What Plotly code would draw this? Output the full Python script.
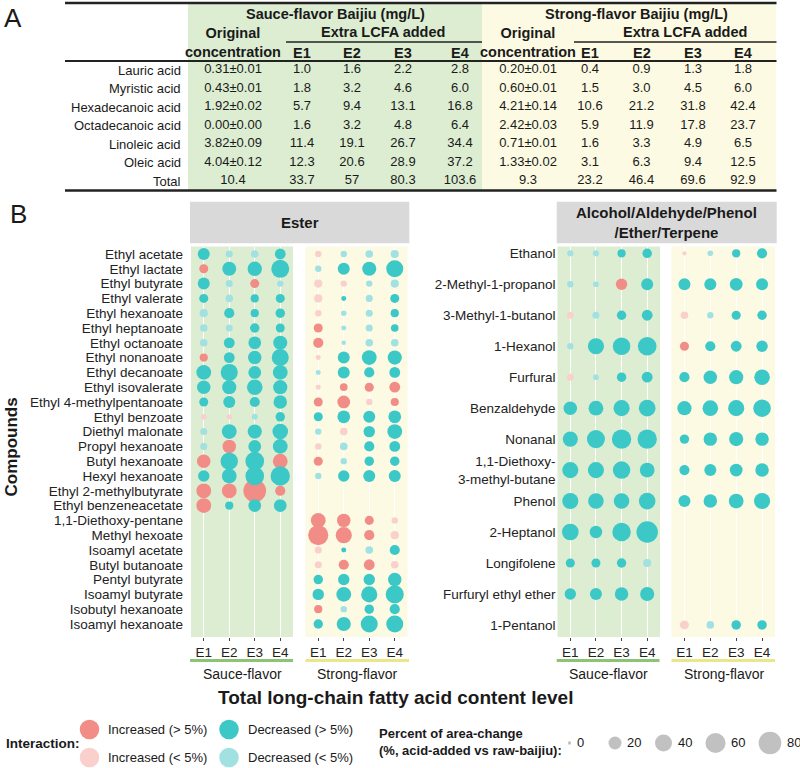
import math
import plotly.graph_objects as go

W, H = 800, 768
FONT = "Liberation Sans, Arial, Helvetica, sans-serif"
TXT = "#1a1a1a"

# ---------------- Panel A: table data ----------------
acids = ["Lauric acid", "Myristic acid", "Hexadecanoic acid", "Octadecanoic acid",
         "Linoleic acid", "Oleic acid", "Total"]
sauce_original = ["0.31±0.01", "0.43±0.01", "1.92±0.02", "0.00±0.00", "3.82±0.09", "4.04±0.12", "10.4"]
sauce_E1 = ["1.0", "1.8", "5.7", "1.6", "11.4", "12.3", "33.7"]
sauce_E2 = ["1.6", "3.2", "9.4", "3.2", "19.1", "20.6", "57"]
sauce_E3 = ["2.2", "4.6", "13.1", "4.8", "26.7", "28.9", "80.3"]
sauce_E4 = ["2.8", "6.0", "16.8", "6.4", "34.4", "37.2", "103.6"]
strong_original = ["0.20±0.01", "0.60±0.01", "4.21±0.14", "2.42±0.03", "0.71±0.01", "1.33±0.02", "9.3"]
strong_E1 = ["0.4", "1.5", "10.6", "5.9", "1.6", "3.1", "23.2"]
strong_E2 = ["0.9", "3.0", "21.2", "11.9", "3.3", "6.3", "46.4"]
strong_E3 = ["1.3", "4.5", "31.8", "17.8", "4.9", "9.4", "69.6"]
strong_E4 = ["1.8", "6.0", "42.4", "23.7", "6.5", "12.5", "92.9"]

# ---------------- Panel B: bubble data ----------------
levels = ["E1", "E2", "E3", "E4"]
# type codes: I = Increased (>5%), i = Increased (<5%), D = Decreased (>5%), d = Decreased (<5%), . = absent
ester_compounds = ["Ethyl acetate", "Ethyl lactate", "Ethyl butyrate", "Ethyl valerate", "Ethyl hexanoate",
                   "Ethyl heptanoate", "Ethyl octanoate", "Ethyl nonanoate", "Ethyl decanoate",
                   "Ethyl isovalerate", "Ethyl 4-methylpentanoate", "Ethyl benzoate", "Diethyl malonate",
                   "Propyl hexanoate", "Butyl hexanoate", "Hexyl hexanoate", "Ethyl 2-methylbutyrate",
                   "Ethyl benzeneacetate", "1,1-Diethoxy-pentane", "Methyl hexoate", "Isoamyl acetate",
                   "Butyl butanoate", "Pentyl butyrate", "Isoamyl butyrate", "Isobutyl hexanoate",
                   "Isoamyl hexanoate"]
NA4 = [None, None, None, None]
ester_sauce_pct = [
    [16, 3, 4, 12], [7, 24, 26, 46], [16, 3, 7, 2], [7, 4, 5, 7], [5, 10, 5, 8],
    [4, 3, 8, 7], [4, 12, 19, 25], [5, 12, 22, 40], [28, 40, 19, 28], [22, 25, 32, 25],
    [7, 16, 10, 22], [1.2, 0.8, 1.5, 8], [3, 28, 25, 32], [3, 22, 19, 28], [22, 42, 50, 28],
    [14, 28, 50, 55], [28, 28, 80, 10], [28, 5, 19, 19],
    NA4, NA4, NA4, NA4, NA4, NA4, NA4, NA4]
ester_sauce_type = ["DddD", "IDDD", "DdId", "DdDD", "dDDD", "ddDD", "dDDD", "IDDD", "DDDD", "DDDD",
                    "DDDD", "iidD", "dDDD", "dIDD", "IDDI", "DDDD", "IIII", "IDDD",
                    "....", "....", "....", "....", "....", "....", "....", "...."]
ester_strong_pct = [
    [2, 2, 4, 5], [2, 16, 25, 40], [5, 2, 2, 5], [5, 0.6, 3, 7], [2, 1, 3, 5],
    [7, 0.6, 3, 4], [10, 0.3, 4, 4], [0.6, 16, 28, 25], [0.6, 16, 10, 12], [0.6, 4, 7, 12],
    [7, 19, 2, 5], [7, 19, 16, 19], [2, 4, 14, 28], [2, 4, 10, 12], [7, 2, 8, 8],
    [2, 14, 16, 16], NA4, NA4, [28, 22, 7, 2], [60, 35, 10, 5],
    [3, 0.6, 4, 10], [3, 10, 12, 4], [8, 14, 14, 22], [14, 28, 35, 46], [5, 2, 8, 10],
    [8, 25, 40, 40]]
ester_strong_type = ["iddd", "dDDD", "iidd", "iDdD", "iddD", "IddD", "Iddd", "iDDD", "dDDD", "iIII",
                     "IIiI", "DDDD", "diDD", "idDD", "IdDD", "dDDD", "....", "....", "IIIi", "IIIi",
                     "iDdD", "iIIi", "DDDD", "DDDD", "IdDD", "DDDD"]

alc_compounds = ["Ethanol", "2-Methyl-1-propanol", "3-Methyl-1-butanol", "1-Hexanol", "Furfural",
                 "Benzaldehyde", "Nonanal", "1,1-Diethoxy-<br>3-methyl-butane", "Phenol", "2-Heptanol",
                 "Longifolene", "Furfuryl ethyl ether", "1-Pentanol"]
alc_sauce_pct = [
    [2, 2, 5, 8], [2, 1.2, 14, 16], [3, 3, 8, 12], [2, 35, 43, 50], [3, 1.2, 8, 12],
    [22, 28, 35, 38], [30, 46, 55, 55], [35, 35, 43, 28], [35, 32, 32, 38], [38, 18, 49, 70],
    [7, 7, 8, 5], [14, 16, 22, 25], NA4]
alc_sauce_type = ["ddDD", "ddID", "idDD", "dDDD", "idDD", "DDDD", "DDDD", "DDDD", "DDDD", "DDDD",
                  "DDDd", "DDDD", "...."]
alc_strong_pct = [
    [0.2, 1.2, 5, 10], [16, 16, 19, 16], [4, 2, 7, 8], [7, 10, 12, 14], [10, 22, 25, 32],
    [25, 32, 35, 43], [8, 22, 25, 22], [10, 16, 19, 22], [16, 22, 28, 35], NA4,
    NA4, NA4, [7, 4, 8, 8]]
alc_strong_type = ["idDD", "DDDD", "idDD", "IDDD", "DDDD", "DDDD", "DDDD", "DDDD", "DDDD", "....",
                   "....", "....", "idDD"]

interaction_labels = {"I": "Increased (> 5%)", "i": "Increased (< 5%)",
                      "D": "Decreased (> 5%)", "d": "Decreased (< 5%)"}
size_legend_values = [0, 20, 40, 60, 80]

# ---------------- styling ----------------
COL = {"I": "#F28C86", "i": "#FAD0CC", "D": "#3CC8C7", "d": "#A2E1E2"}
GREEN_BG = "#DCEDD2"
YELLOW_BG = "#FCFAE2"
STRIP = "#D9D9D9"


def dia(v):
    return 3.3 + 2.17 * math.sqrt(v)


def bubble_traces(pct_rows, type_rows, xa, ya):
    out = []
    for code in ["I", "i", "D", "d"]:
        xs, ys, ss = [], [], []
        for r, (vals, types) in enumerate(zip(pct_rows, type_rows)):
            for c, (v, t) in enumerate(zip(vals, types)):
                if t == code and v is not None:
                    xs.append(c)
                    ys.append(r)
                    ss.append(dia(v))
        out.append(go.Scatter(x=xs, y=ys, mode="markers", xaxis=xa, yaxis=ya,
                              marker=dict(size=ss, color=COL[code], line=dict(width=0), opacity=1),
                              showlegend=False, hoverinfo="skip", cliponaxis=False))
    return out


fig = go.Figure()
for tr in bubble_traces(ester_sauce_pct, ester_sauce_type, "x", "y"):
    fig.add_trace(tr)
for tr in bubble_traces(ester_strong_pct, ester_strong_type, "x2", "y2"):
    fig.add_trace(tr)
for tr in bubble_traces(alc_sauce_pct, alc_sauce_type, "x3", "y3"):
    fig.add_trace(tr)
for tr in bubble_traces(alc_strong_pct, alc_strong_type, "x4", "y4"):
    fig.add_trace(tr)

# ---------------- table cells (canvas axis in pixel units) ----------------
row_y = [70 + i * 18.5 for i in range(len(acids))]
table_cols = [
    (233, sauce_original), (302, sauce_E1), (352, sauce_E2), (403, sauce_E3), (460, sauce_E4),
    (528, strong_original), (590, strong_E1), (641.5, strong_E2), (693, strong_E3), (743, strong_E4),
]
for xc, vals in table_cols:
    fig.add_trace(go.Scatter(x=[xc] * len(vals), y=row_y, text=vals, mode="text",
                             textposition="middle center", xaxis="x5", yaxis="y5",
                             textfont=dict(family=FONT, size=13, color=TXT),
                             showlegend=False, hoverinfo="skip", cliponaxis=False))

# ---------------- legends ----------------
leg_pos = {"I": (89.5, 729.5), "i": (89.5, 757.5), "D": (229, 729.5), "d": (229, 757.5)}
codes = ["I", "i", "D", "d"]
fig.add_trace(go.Scatter(x=[leg_pos[c][0] for c in codes], y=[leg_pos[c][1] for c in codes],
                         mode="markers", xaxis="x5", yaxis="y5",
                         marker=dict(size=19.5, color=[COL[c] for c in codes], line=dict(width=0)),
                         showlegend=False, hoverinfo="skip", cliponaxis=False))
size_leg_x = [569.5, 615, 663.5, 715.5, 770]
fig.add_trace(go.Scatter(x=size_leg_x, y=[743] * 5, mode="markers", xaxis="x5", yaxis="y5",
                         marker=dict(size=[dia(v) for v in size_legend_values], color="#A6A6A6",
                                     line=dict(width=0)),
                         showlegend=False, hoverinfo="skip", cliponaxis=False))

# ---------------- axes ----------------
def xd(a, b):
    return [a / W, b / W]


YDOM = [1 - 637 / H, 1 - 246.5 / H]
xcommon = dict(range=[-0.5, 3.5], tickvals=[0, 1, 2, 3], ticktext=levels, showgrid=True,
               gridcolor="white", gridwidth=1.2, ticks="outside", ticklen=3, tickwidth=1,
               tickcolor="#444", tickfont=dict(family=FONT, size=13.5, color="#222"),
               zeroline=False, showline=False, fixedrange=True)
ycommon = dict(showgrid=False, zeroline=False, showline=False, ticks="", fixedrange=True,
               tickfont=dict(family=FONT, size=13.5, color="#222"), domain=YDOM)

ne = len(ester_compounds)
na = len(alc_compounds)
ester_range = [ne - 1 + 0.88, -0.507]
alc_range = [na - 1 + 0.39, -0.22]

fig.update_layout(
    xaxis=dict(domain=xd(191, 293), anchor="y", **xcommon),
    xaxis2=dict(domain=xd(305.5, 407.5), anchor="y2", **xcommon),
    xaxis3=dict(domain=xd(557.5, 660), anchor="y3", **xcommon),
    xaxis4=dict(domain=xd(671.5, 775), anchor="y4", **xcommon),
    yaxis=dict(anchor="x", range=ester_range, tickvals=list(range(ne)), ticktext=ester_compounds,
               ticklabelstandoff=7, **ycommon),
    yaxis2=dict(anchor="x2", range=ester_range, tickvals=list(range(ne)), showticklabels=False, **ycommon),
    yaxis3=dict(anchor="x3", range=alc_range, tickvals=list(range(na)), ticktext=alc_compounds,
                ticklabelstandoff=1, **ycommon),
    yaxis4=dict(anchor="x4", range=alc_range, tickvals=list(range(na)), showticklabels=False, **ycommon),
    xaxis5=dict(domain=[0, 1], range=[0, W], anchor="y5", visible=False, fixedrange=True),
    yaxis5=dict(domain=[0, 1], range=[H, 0], anchor="x5", visible=False, fixedrange=True),
)

# ---------------- shapes ----------------
shapes = []


def prect(x0, y0, x1, y1, color):
    shapes.append(dict(type="rect", xref="paper", yref="paper", x0=x0 / W, x1=x1 / W,
                       y0=1 - y1 / H, y1=1 - y0 / H, fillcolor=color, line=dict(width=0), layer="below"))


def pline(x0, y0, x1, y1, color, width):
    shapes.append(dict(type="line", xref="paper", yref="paper", x0=x0 / W, x1=x1 / W,
                       y0=1 - y0 / H, y1=1 - y1 / H, line=dict(color=color, width=width), layer="above"))


# table backgrounds and rules
prect(188, 3, 482, 190.5, GREEN_BG)
prect(482, 3, 776, 190.5, YELLOW_BG)
pline(65, 3, 776.5, 3, "#222", 2.5)
pline(65, 61, 776.5, 61, "#222", 2)
pline(65, 190.5, 776.5, 190.5, "#222", 2.5)
pline(286, 42, 482, 42, "#222", 1.3)
pline(574, 42, 776.5, 42, "#222", 1.3)

# panel backgrounds
for xa, ya, col in [("x", "y", GREEN_BG), ("x2", "y2", YELLOW_BG), ("x3", "y3", GREEN_BG), ("x4", "y4", YELLOW_BG)]:
    shapes.append(dict(type="rect", xref=xa + " domain", yref=ya + " domain", x0=0, x1=1, y0=0, y1=1,
                       fillcolor=col, line=dict(width=0), layer="below"))

# strips
prect(190, 201.7, 409.3, 243.3, STRIP)
prect(556.7, 201.7, 776.7, 243.3, STRIP)

# facet underlines
pline(190, 660.5, 293, 660.5, "#8DC474", 3)
pline(305.5, 660.5, 409, 660.5, "#EAE68A", 3)
pline(556.7, 660.5, 659.5, 660.5, "#8DC474", 3)
pline(671.5, 660.5, 775, 660.5, "#EAE68A", 3)

fig.update_layout(shapes=shapes)

# ---------------- annotations ----------------
ann = []


def txt(x, y, s, size=13, bold=False, xanchor="center", yanchor="middle", angle=0, color=TXT, align="center"):
    ann.append(dict(x=x, y=y, xref="x5", yref="y5", text=("<b>%s</b>" % s) if bold else s,
                    showarrow=False, xanchor=xanchor, yanchor=yanchor, textangle=angle, align=align,
                    font=dict(family=FONT, size=size, color=color)))


txt(13, 18, "A", size=26)
txt(18, 214, "B", size=26)

# table header
txt(335, 14, "Sauce-flavor Baijiu (mg/L)", 14.5, True)
txt(636.5, 14, "Strong-flavor Baijiu (mg/L)", 14.5, True)
txt(233, 42, "Original<br>concentration", 14.5, True)
txt(528, 42, "Original<br>concentration", 14.5, True)
txt(383, 32, "Extra LCFA added", 14.5, True)
txt(685, 32, "Extra LCFA added", 14.5, True)
for xc, lab in zip([302, 352, 403, 460], levels):
    txt(xc, 52.5, lab, 14.5, True)
for xc, lab in zip([590, 641.5, 693, 743], levels):
    txt(xc, 52.5, lab, 14.5, True)
for yv, lab in zip(row_y, acids):
    txt(183, yv, lab, 13, xanchor="right")

# strips
txt(299.7, 222.5, "Ester", 15, True)
txt(666.7, 222.5, "Alcohol/Aldehyde/Phenol<br>/Ether/Terpene", 15, True)

# facet labels & axis titles
txt(242, 673.5, "Sauce-flavor", 14)
txt(357, 673.5, "Strong-flavor", 14)
txt(608.5, 673.5, "Sauce-flavor", 14)
txt(723.5, 673.5, "Strong-flavor", 14)
txt(395, 697, "Total long-chain fatty acid content level", 19, True)
txt(10.5, 447, "Compounds", 17, True, angle=-90)

# legend texts
txt(4, 743.5, "Interaction:", 13.5, True, xanchor="left")
for c in codes:
    txt(leg_pos[c][0] + 16.5, leg_pos[c][1], interaction_labels[c], 13, xanchor="left")
txt(377, 742, "Percent of area-change<br>(%, acid-added vs raw-baijiu):", 13, True, xanchor="left",
    align="left")
for xv, v in zip(size_leg_x, size_legend_values):
    txt(xv + dia(v) / 2 + 3.5, 742, str(v), 13, xanchor="left")

fig.update_layout(annotations=ann)

fig.update_layout(width=W, height=H, autosize=False, margin=dict(l=0, r=0, t=0, b=0),
                  paper_bgcolor="white", plot_bgcolor="rgba(0,0,0,0)", showlegend=False,
                  font=dict(family=FONT, color=TXT))

fig.write_html("out.html", config={"displayModeBar": False},
               post_script="document.body.style.margin='0';document.body.style.padding='0';"
                           "document.body.style.overflow='hidden';")
